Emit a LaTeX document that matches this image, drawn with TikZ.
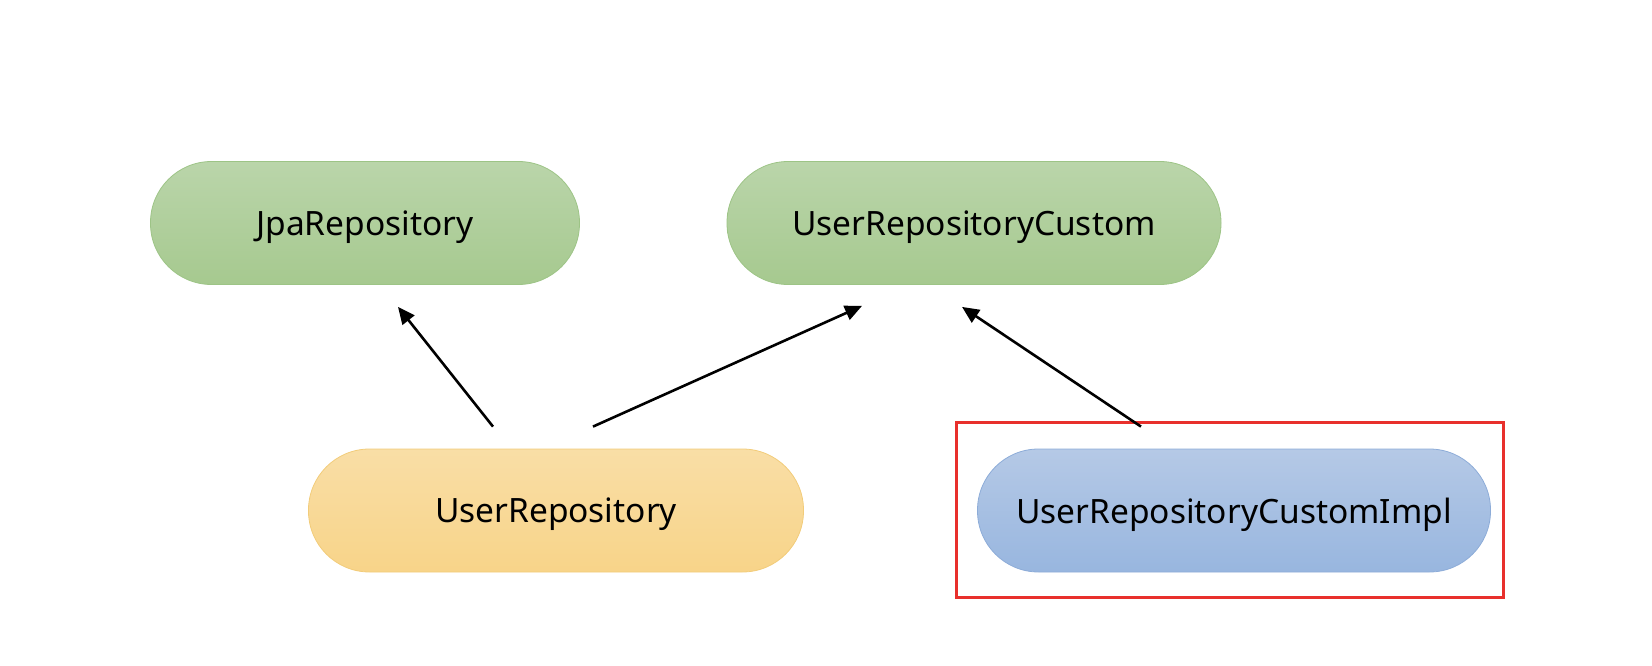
\documentclass[tikz,border=0pt]{standalone}
\usepackage{fontspec}
\setmainfont{Noto Sans}
\usetikzlibrary{arrows.meta,calc}
\definecolor{grnTop}{HTML}{BAD5AA}
\definecolor{grnBot}{HTML}{A6C98F}
\definecolor{grnLine}{HTML}{9DC486}
\definecolor{ylwTop}{HTML}{F9DEA6}
\definecolor{ylwBot}{HTML}{F8D489}
\definecolor{ylwLine}{HTML}{F2CC7A}
\definecolor{bluTop}{HTML}{B5C9E6}
\definecolor{bluBot}{HTML}{98B6DF}
\definecolor{bluLine}{HTML}{8DACD8}
\definecolor{frameRed}{HTML}{E8302C}
\tikzset{
  pill/.style={minimum height=123pt, rounded corners=61pt, inner sep=0pt,
    text depth=0pt, font=\fontsize{33.5}{38}\selectfont, line width=0.8pt},
  green pill/.style={pill, draw=grnLine, top color=grnTop, bottom color=grnBot},
  yellow pill/.style={pill, draw=ylwLine, top color=ylwTop, bottom color=ylwBot},
  blue pill/.style={pill, draw=bluLine, top color=bluTop, bottom color=bluBot},
  inherit/.style={line width=2.6pt, -{Triangle[length=17pt,width=15pt]}},
}
\begin{document}
\begin{tikzpicture}[x=1pt,y=-1pt]
  \useasboundingbox (0,0) rectangle (1652,666);
  % interfaces
  \node[green pill, minimum width=429pt] (jpa) at (365,223) {JpaRepository};
  \node[green pill, minimum width=494pt] (custom) at (974,223) {UserRepositoryCustom};
  % repository and its implementation
  \node[yellow pill, minimum width=495pt] (repo) at (556,510.5) {UserRepository};
  \node[blue pill, minimum width=513pt] (impl) at (1234,510.5) {UserRepositoryCustomImpl};
  % highlight frame around the implementation
  \node[draw=frameRed, line width=2.4pt, minimum width=547pt, minimum height=175pt,
        inner sep=0pt] (frame) at (1230,510) {};
  % arrow end points
  \coordinate (repoA) at ($(repo.north)+(-63,-22)$);
  \coordinate (repoB) at ($(repo.north)+(37,-22)$);
  \coordinate (implA) at ($(impl.north)+(-93,-22)$);
  \coordinate (jpaIn) at ($(jpa.south)+(33,22)$);
  \coordinate (customInL) at ($(custom.south)+(-112,21)$);
  \coordinate (customInR) at ($(custom.south)+(-12,22)$);
  \draw[inherit] (repoA) -- (jpaIn);
  \draw[inherit] (repoB) -- (customInL);
  \draw[inherit] (implA) -- (customInR);
\end{tikzpicture}
\end{document}
